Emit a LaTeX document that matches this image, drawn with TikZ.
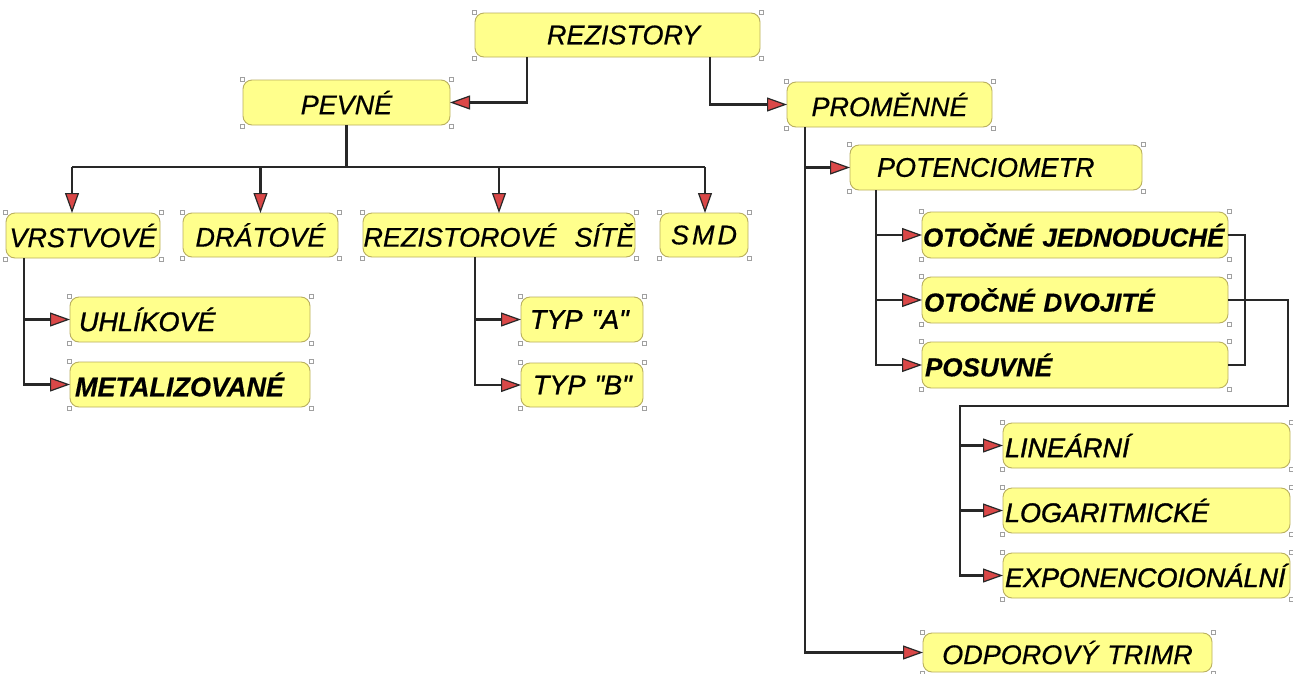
\documentclass[tikz,border=0pt]{standalone}
\usepackage{fontspec}
\setmainfont{Liberation Sans}[Ligatures=TeXOff,FakeBold=0.5]
\newfontfamily\medfont{Liberation Sans}[Ligatures=TeXOff,FakeBold=1.2]
\usetikzlibrary{arrows.meta,calc}
\definecolor{boxfill}{RGB}{255,255,140}
\definecolor{boxedge}{RGB}{185,175,95}
\definecolor{linecol}{RGB}{40,40,40}
\definecolor{arrowred}{RGB}{218,72,72}
\definecolor{handlecol}{RGB}{160,160,160}
\newcommand{\mybox}[8]{\node[box, inner xsep=#6pt, minimum width={(#4-#2)*1pt}, minimum height={(#5-#3)*1pt}, text width={(#4-#2-2*#6)*1pt}, anchor=north west, #7] (#1) at (#2,#3) {\mbox{#8}};}
\begin{document}
\begin{tikzpicture}[x=1pt,y=-1pt,
  box/.style={draw=boxedge, fill=boxfill, line width=0.9pt, rounded corners=9pt, outer sep=0pt, inner ysep=0pt,
    align=center, font=\fontsize{27}{32}\selectfont\itshape},
  md/.style={font=\fontsize{27}{32}\selectfont\medfont\itshape},
  bf/.style={font=\fontsize{27}{32}\selectfont\itshape\bfseries},
  bfs/.style={font=\fontsize{26}{31}\selectfont\itshape\bfseries},
  lft/.style={align=left},
  line/.style={draw=linecol, line width=2.6pt},
  arr/.style={line, -{Triangle[length=20pt,width=14pt,fill=arrowred,line width=1.2pt]}},
  handle/.style={draw=handlecol, fill=white, line width=0.5pt}]
\useasboundingbox (0,0) rectangle (1293,673);
\fill[white] (0,0) rectangle (1293,673);

\mybox{rez}{475}{13}{760}{57}{0}{}{\hspace{12pt}REZISTORY}
\mybox{pevne}{243}{80}{450}{125}{0}{}{PEVNÉ}
\mybox{prom}{787}{82}{992}{127}{0}{}{PROMĚNNÉ}
\mybox{vrst}{6}{213}{160}{258}{0}{}{VRSTVOVÉ}
\mybox{drat}{183}{213}{338}{257}{0}{}{DRÁTOVÉ}
\mybox{site}{363}{213}{635}{257}{0}{}{REZISTOROVÉ\ \ SÍTĚ}
\mybox{smd}{660}{213}{748}{257}{0}{}{S\kern3pt M\kern3pt D}
\mybox{uhl}{70}{297}{310}{342}{9}{lft,md}{UHLÍKOVÉ}
\mybox{met}{70}{362}{310}{407}{5}{lft,bf}{METALIZOVANÉ}
\mybox{typa}{521}{297}{643}{342}{9}{lft,md}{TYP "A"}
\mybox{typb}{521}{363}{643}{407}{12}{lft,md}{TYP "B"}
\mybox{pot}{850}{145}{1142}{190}{27}{lft}{POTENCIOMETR}
\mybox{oj}{922}{212}{1228}{258}{1}{lft,bfs}{OTOČNÉ JEDNODUCHÉ}
\mybox{od}{922}{277}{1228}{323}{2}{lft,bfs}{OTOČNÉ DVOJITÉ}
\mybox{pos}{922}{342}{1228}{388}{3}{lft,bfs}{POSUVNÉ}
\mybox{lin}{1003}{423}{1290}{468}{2}{lft,md}{LINEÁRNÍ}
\mybox{log}{1003}{488}{1290}{533}{2}{lft,md}{LOGARITMICKÉ}
\mybox{exp}{1003}{553}{1290}{598}{2}{lft,md}{EXPONENCOIONÁLNÍ}
\mybox{trim}{923}{633}{1212}{672}{0}{}{ODPOROVÝ TRIMR}

% corner handles
\foreach \n in {rez,pevne,prom,vrst,drat,site,smd,uhl,met,typa,typb,pot,oj,od,pos,lin,log,exp,trim}{
  \foreach \a/\dx/\dy in {north west/-1/-1,north east/1/-1,south west/-1/1,south east/1/1}{
    \draw[handle] ($(\n.\a)+(\dx-2,\dy-2)$) rectangle ++(4,4);
  }
}

% REZISTORY -> PEVNE / PROMENNE
\draw[arr] ($(rez.south west)+(52,0)$) |- (pevne.east);
\draw[arr] ($(rez.south west)+(235,0)$) |- (prom.west);

% PEVNE bus
\coordinate (busL) at (72,167);
\coordinate (busR) at (705,167);
\draw[line] (pevne.south) -- (pevne.south |- busL);
\draw[line] (busL) -- (busR);
\draw[arr] (busL) -- (busL |- vrst.north);
\draw[arr] (drat.north |- busL) -- (drat.north);
\draw[arr] (site.north |- busL) -- (site.north);
\draw[arr] (busR) -- (busR |- smd.north);

% VRSTVOVE
\draw[arr] ($(vrst.south west)+(18,0)$) |- (uhl.west);
\draw[arr] ($(vrst.south west)+(18,0)$) |- (met.west);

% REZISTOROVE SITE
\draw[arr] ($(site.south west)+(112,0)$) |- (typa.west);
\draw[arr] ($(site.south west)+(112,0)$) |- (typb.west);

% PROMENNE
\draw[arr] ($(prom.south west)+(18,0)$) |- (pot.west);
\draw[arr] ($(prom.south west)+(18,0)$) |- (trim.west);

% POTENCIOMETR
\draw[arr] ($(pot.south west)+(26,0)$) |- (oj.west);
\draw[arr] ($(pot.south west)+(26,0)$) |- (od.west);
\draw[arr] ($(pot.south west)+(26,0)$) |- (pos.west);

% right bracket
\draw[line] (oj.east) -- ++(17,0) |- (pos.east);
\coordinate (rb) at (1288,406);
\coordinate (lv) at (960,406);
\draw[arr] (od.east) -| (rb) -- (lv) |- (exp.west);
\draw[arr] (lv |- lin.west) -- (lin.west);
\draw[arr] (lv |- log.west) -- (log.west);
\end{tikzpicture}
\end{document}
